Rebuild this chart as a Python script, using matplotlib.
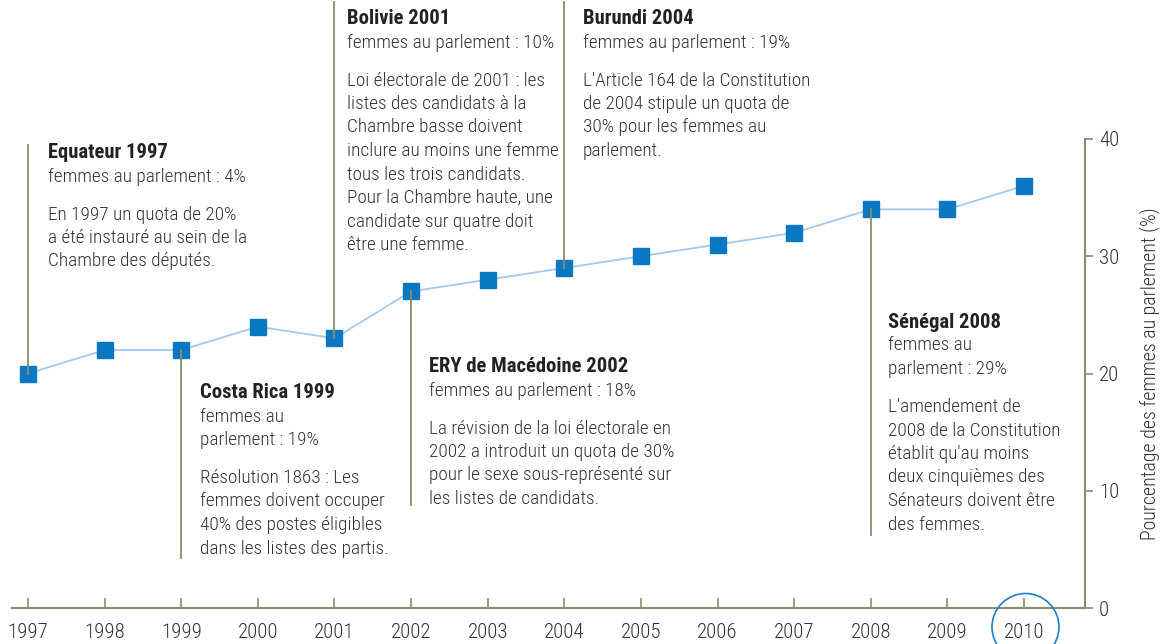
import matplotlib
matplotlib.use("Agg")
import matplotlib.pyplot as plt
from matplotlib.patches import Ellipse
from matplotlib import font_manager

installed = {f.name for f in font_manager.fontManager.ttflist}
family = 'Liberation Sans'
FS, TS, HS = 12.2, 13.0, 12.8
for cand, size, tsize, hsize in [('Roboto Condensed', 13.9, 15.0, 14.9),
                                 ('Liberation Sans Narrow', 14.5, 15.5, 15.0)]:
    if cand in installed:
        family, FS, TS, HS = cand, size, tsize, hsize
        break
plt.rcParams['font.family'] = [family, 'DejaVu Sans']

years = [1997, 1998, 1999, 2000, 2001, 2002, 2003, 2004, 2005, 2006, 2007, 2008, 2009, 2010]
values = [20, 22, 22, 24, 23, 27, 28, 29, 30, 31, 32, 34, 34, 36]
yticks = [0, 10, 20, 30, 40]
ylabel = "Pourcentage des femmes au parlement (%)"

# annotations: year, title, sub lines, body lines
ann_years = [1997, 1999, 2001, 2002, 2004, 2008]
ann_titles = ["Equateur 1997", "Costa Rica 1999", "Bolivie 2001",
              "ERY de Macédoine 2002", "Burundi 2004", "Sénégal 2008"]
ann_sub = [["femmes au parlement : 4%"],
           ["femmes au", "parlement : 19%"],
           ["femmes au parlement : 10%"],
           ["femmes au parlement : 18%"],
           ["femmes au parlement : 19%"],
           ["femmes au", "parlement : 29%"]]
ann_body = [["En 1997 un quota de 20%", "a été instauré au sein de la", "Chambre des députés."],
            ["Résolution 1863 : Les", "femmes doivent occuper", "40% des postes éligibles",
             "dans les listes des partis."],
            ["Loi électorale de 2001 : les", "listes des candidats à la", "Chambre basse doivent",
             "inclure au moins une femme", "tous les trois candidats.", "Pour la Chambre haute, une",
             "candidate sur quatre doit", "être une femme."],
            ["La révision de la loi électorale en", "2002 a introduit un quota de 30%",
             "pour le sexe sous-représenté sur", "les listes de candidats."],
            ["L'Article 164 de la Constitution", "de 2004 stipule un quota de",
             "30% pour les femmes au", "parlement."],
            ["L'amendement de", "2008 de la Constitution", "établit qu'au moins",
             "deux cinquièmes des", "Sénateurs doivent être", "des femmes."]]

# layout (pixels): text left x, title center y, leader line end y
ann_text_x = [48, 200, 347, 429, 583, 888]
ann_title_y = [153, 393, 19, 367, 19, 322]
ann_line_end = [145, 558, 2, 505, 2, 535]

W, H = 1174, 644
fig = plt.figure(figsize=(W / 100, H / 100), dpi=100)
ax_left, ax_right, ax_bottom, ax_top = 12, 1085, 608, 139
ax = fig.add_axes([ax_left / W, 1 - ax_bottom / H, (ax_right - ax_left) / W, (ax_bottom - ax_top) / H])

AX_COL = '#8c8b70'
TXT = '#333333'

ax.set_xlim(1997 - 16 / 76.6, 2010 + 61 / 76.6)
ax.set_ylim(0, 40)

ax.plot(years, values, color='#a3c9ef', lw=1.3, zorder=3)
ax.plot(years, values, ls='none', marker='s', ms=11, color='#0a77c2', zorder=4)

for s in ['top', 'left']:
    ax.spines[s].set_visible(False)
ax.spines['bottom'].set_color(AX_COL)
ax.spines['right'].set_color(AX_COL)
ax.spines['bottom'].set_linewidth(1.5)
ax.spines['right'].set_linewidth(1.5)

ax.set_xticks(years)
ax.set_xticklabels([str(y) for y in years])
ax.tick_params(axis='x', direction='in', length=7.5, width=1.2, color=AX_COL,
               labelsize=TS, labelcolor=TXT, pad=10.5)
ax.yaxis.tick_right()
ax.yaxis.set_label_position('right')
ax.set_yticks(yticks)
ax.tick_params(axis='y', direction='out', length=6, width=1.2, color=AX_COL,
               labelsize=TS, labelcolor=TXT, pad=4)
for lab in ax.get_xticklabels() + ax.get_yticklabels():
    lab.set_fontweight('light')
ax.set_ylabel(ylabel, fontsize=14.3, color=TXT, labelpad=14, fontweight='light')

# pixel -> figure fraction helpers
def fx(px):
    return px / W

def fy(py):
    return 1 - py / H

val_of = dict(zip(years, values))
LH = 23.5
for yr, title, sub, body, tx, ty, le in zip(ann_years, ann_titles, ann_sub, ann_body,
                                               ann_text_x, ann_title_y, ann_line_end):
    x_disp, y_disp = ax.transData.transform((yr, val_of[yr]))
    x_fig = x_disp / fig.dpi / fig.get_figwidth()
    y_fig = y_disp / fig.dpi / fig.get_figheight()
    fig.add_artist(plt.Line2D([x_fig, x_fig], [y_fig, fy(le)], color=AX_COL, lw=1.3, zorder=1))
    y = ty
    fig.text(fx(tx), fy(y), title, fontsize=HS, fontweight='bold', color='#222222', va='center', ha='left')
    for line in sub:
        y += LH
        fig.text(fx(tx), fy(y), line, fontsize=FS, fontweight='light', color=TXT, va='center', ha='left')
    y += LH + 14.5
    for i, line in enumerate(body):
        if i > 0:
            y += LH
        fig.text(fx(tx), fy(y), line, fontsize=FS, fontweight='light', color=TXT, va='center', ha='left')

# circle highlighting 2010
cx, _ = ax.transData.transform((2010, 0))
fig.add_artist(Ellipse(((cx + 1.5) / W, fy(627)), 67 / W, 67 / H, fill=False, edgecolor='#1f7fc8', lw=1.2))

fig.savefig('out.png', dpi=100)
